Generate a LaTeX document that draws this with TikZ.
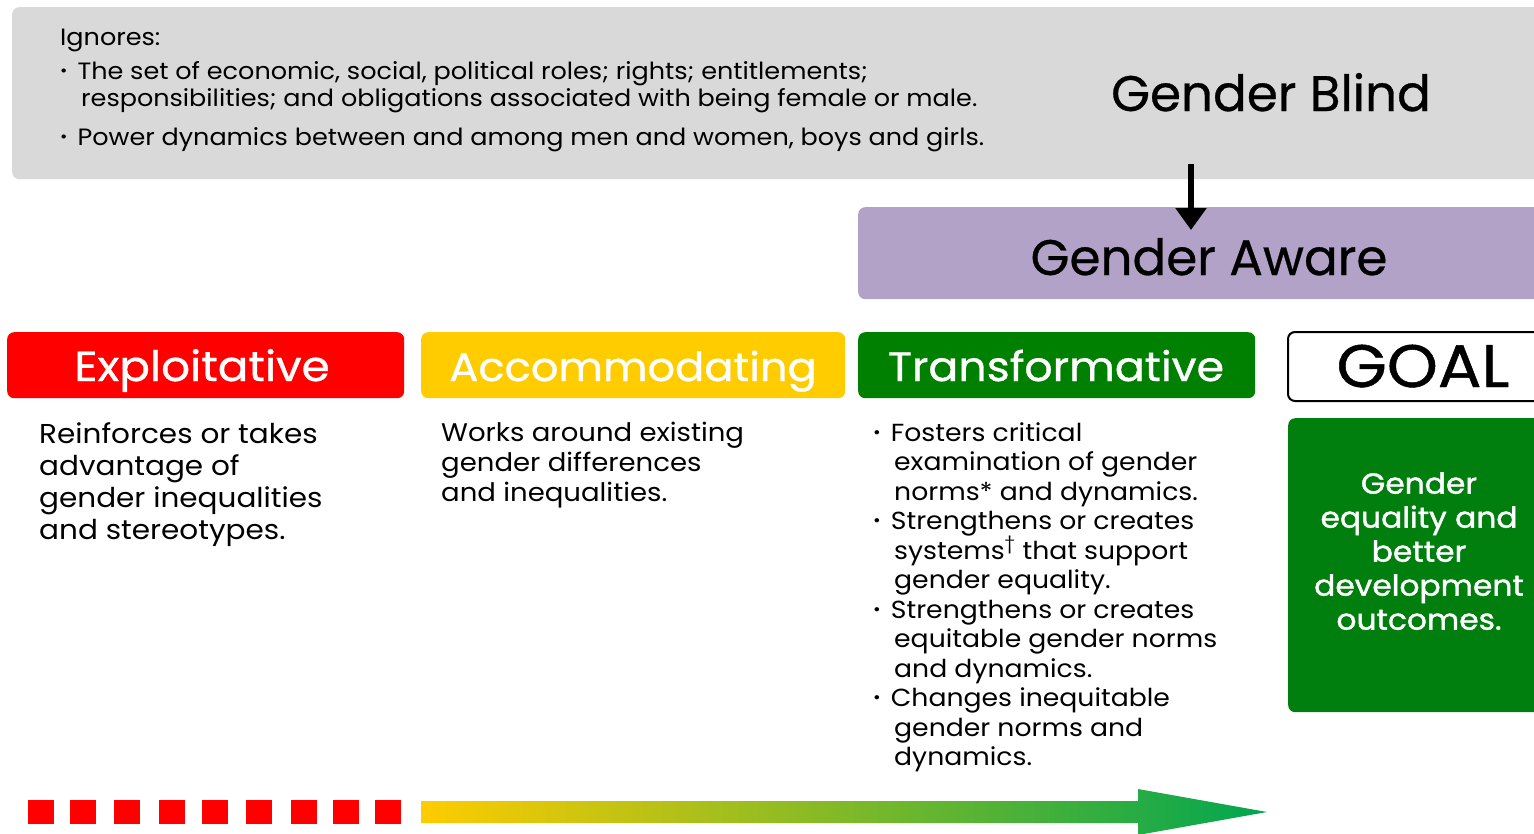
\documentclass[tikz,border=0pt]{standalone}
\usepackage{fontspec}
\setmainfont{Poppins}[FakeStretch=1.08]
\newfontfamily\titlefont{Poppins}[FakeBold=0.6]
\newfontfamily\headfont{Poppins}[FakeStretch=1.08, FakeBold=0.8]
\newfontfamily\goalfont{Poppins}[FakeStretch=1.08, FakeBold=1.4]
\usetikzlibrary{arrows.meta}
\definecolor{blindgray}{HTML}{D9D9D9}
\definecolor{awarepurple}{HTML}{B3A2C7}
\definecolor{exred}{HTML}{FF0000}
\definecolor{acyellow}{HTML}{FFCC00}
\definecolor{trgreen}{HTML}{008000}
\definecolor{goalgreen}{HTML}{007F0E}
\definecolor{arrowgreen}{HTML}{00A650}
\newcommand{\smallbul}{\raisebox{0.12em}{\scalebox{0.7}{•}}}
\tikzset{
  panel/.style={rounded corners=7pt, draw=none, inner sep=0pt, anchor=north west},
  headtext/.style={text=white, font=\headfont\fontsize{41}{48}\selectfont, inner sep=0pt, anchor=base},
  bodytext/.style={align=left, inner sep=0pt, anchor=north west},
  toptext/.style={anchor=base west, inner sep=0pt, font=\fontsize{23.6}{27}\selectfont},
  sq/.style={fill=exred, draw=none, minimum width=26pt, minimum height=24pt, inner sep=0pt, anchor=north west}
}
\begin{document}
\begin{tikzpicture}[x=1pt,y=-1pt]
\useasboundingbox (0,0) rectangle (1534,833);
\begin{scope}
\clip (0,0) rectangle (1534,833);
% Gender blind panel
\node[panel, fill=blindgray, minimum width=1540pt, minimum height=172pt] (blind) at (12,7) {};
% Gender aware panel
\node[panel, fill=awarepurple, minimum width=700pt, minimum height=92pt] (aware) at (858,207) {};
% headers
\node[panel, fill=exred, minimum width=397pt, minimum height=66pt] (exbox) at (7,332) {};
\node[panel, fill=acyellow, minimum width=424pt, minimum height=66pt] (acbox) at (421,332) {};
\node[panel, fill=trgreen, minimum width=397pt, minimum height=66pt] (trbox) at (858,332) {};
\node[panel, draw=black, line width=2pt, fill=white, minimum width=300pt, minimum height=69pt] (goalbox) at (1287,331) {};
\node[panel, fill=goalgreen, minimum width=300pt, minimum height=294pt] (goalgreen) at (1288,418) {};
% bottom gradient arrow
\shade[left color=acyellow, right color=arrowgreen]
  (421,801) -- (1138,801) -- (1138,789) -- (1267,812) -- (1138,835) -- (1138,823) -- (421,823) -- cycle;
\end{scope}

% top panel text
\node[toptext] (ign) at (60,45) {Ignores:};
\node[toptext] (b1a) at (60,79) {\smallbul\hspace{10pt}The set of economic, social, political roles; rights; entitlements;};
\node[toptext] (b1b) at (81,106) {responsibilities; and obligations associated with being female or male.};
\node[toptext] (b2) at (60,145) {\smallbul\hspace{10pt}Power dynamics between and among men and women, boys and girls.};

\node[anchor=base, inner sep=0pt, font=\titlefont\fontsize{50}{60}\selectfont] (blindt) at (1271,111) {Gender Blind};
\node[anchor=base, inner sep=0pt, font=\titlefont\fontsize{50}{60}\selectfont] (awaret) at (1209,275) {Gender Aware};

\coordinate (arrS) at (1191,164);
\coordinate (arrE) at (1191,230);
\draw[line width=6.5pt, -{Triangle[width=30pt,length=22pt]}] (arrS) -- (arrE);

\node[headtext, font=\headfont\fontsize{42}{48}\selectfont] (ext) at (202,381) {Exploitative};
\node[headtext, font=\headfont\fontsize{40}{48}\selectfont] (act) at (633,381) {Accommodating};
\node[headtext] (trt) at (1056,381) {Transformative};
\node[anchor=base, inner sep=0pt, font=\headfont\fontsize{60}{66}\selectfont] (goalt) at (1423,387) {GOAL};

\node[bodytext, font=\fontsize{27.3}{32}\selectfont] (exbody) at (39,422) {Reinforces or takes\\advantage of\\gender inequalities\\and stereotypes.};
\node[bodytext, font=\fontsize{25.5}{30}\selectfont] (acbody) at (441,422) {Works around existing\\gender differences\\and inequalities.};
\node[bodytext, font=\fontsize{24.7}{29.5}\selectfont] (trbody) at (873,422) {%
\smallbul\hspace{10pt}Fosters critical\\
\hspace*{21pt}examination of gender\\
\hspace*{21pt}norms* and dynamics.\\
\smallbul\hspace{10pt}Strengthens or creates\\
\hspace*{21pt}systems\textsuperscript{†} that support\\
\hspace*{21pt}gender equality.\\
\smallbul\hspace{10pt}Strengthens or creates\\
\hspace*{21pt}equitable gender norms\\
\hspace*{21pt}and dynamics.\\
\smallbul\hspace{10pt}Changes inequitable\\
\hspace*{21pt}gender norms and\\
\hspace*{21pt}dynamics.};
\node[align=center, inner sep=0pt, anchor=north, text=white, font=\goalfont\fontsize{29}{34}\selectfont] (goalbody) at (1419,472) {Gender\\equality and\\better\\development\\outcomes.};

% red squares
\node[sq] (s1) at (28,800) {};
\node[sq] (s2) at (70,800) {};
\node[sq] (s3) at (114,800) {};
\node[sq] (s4) at (159,800) {};
\node[sq] (s5) at (202,800) {};
\node[sq] (s6) at (246,800) {};
\node[sq] (s7) at (291,800) {};
\node[sq] (s8) at (333,800) {};
\node[sq] (s9) at (375,800) {};
\end{tikzpicture}
\end{document}
